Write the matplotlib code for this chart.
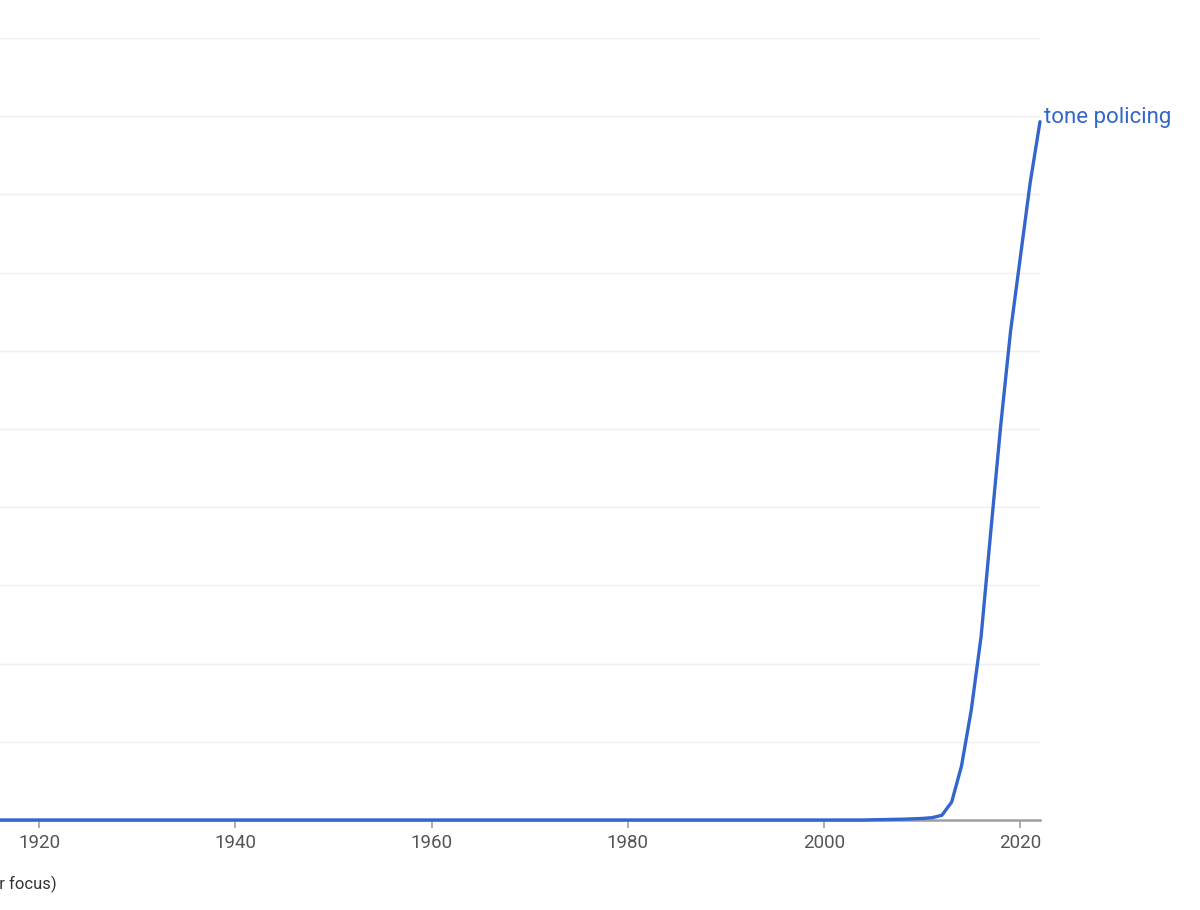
import matplotlib
matplotlib.use("Agg")
import matplotlib.pyplot as plt

# Ngram frequency of "tone policing" (y in gridline units)
years = list(range(1916, 2023))
flat_years = 2005 - 1916
freq = [0.0] * flat_years + [
    0.003, 0.005, 0.008, 0.01, 0.015, 0.02, 0.03,  # 2005-2011
    0.06, 0.23, 0.69, 1.41, 2.35, 3.71,            # 2012-2017
    5.05, 6.25, 7.20, 8.15, 8.93,                  # 2018-2022
]
xticks = [1920, 1940, 1960, 1980, 2000, 2020]
series_label = "tone policing"

blue = "#3366cc"
plt.rcParams["font.family"] = ["Roboto", "DejaVu Sans"]

fig = plt.figure(figsize=(12, 9.1), dpi=100)
ax = fig.add_axes([0, 90 / 910, 1040 / 1200, 782 / 910])

ax.plot(years, freq, color=blue, linewidth=2.4, solid_capstyle="round",
        solid_joinstyle="round", clip_on=False, zorder=3)
ax.set_xlim(1916.02, 2022)
ax.set_ylim(0, 10)

# light horizontal gridlines
ax.set_yticks(range(1, 11))
ax.yaxis.grid(True, color="#efefef", linewidth=1)
ax.tick_params(axis="y", length=0, labelleft=False)

ax.set_xticks(xticks)
ax.set_xticklabels([str(t) for t in xticks], fontsize=13.5, color="#555555")
ax.tick_params(axis="x", direction="out", length=6, width=1.2, color="#9e9e9e", pad=4)

for side in ["top", "right", "left"]:
    ax.spines[side].set_visible(False)
ax.spines["bottom"].set_color("#9e9e9e")
ax.spines["bottom"].set_linewidth(1.8)

# series label at the end of the line
ax.annotate(series_label, xy=(years[-1], freq[-1]), xytext=(3, 3), textcoords="offset points",
            color=blue, fontsize=16, ha="left", va="center", annotation_clip=False)

# hint text at the bottom, cropped by the left edge as in the reference
fig.text(57 / 1200, 1 - 884 / 910, "(click on line/label for focus)", ha="right", va="center",
         fontsize=12, color="#333333")

fig.savefig("out.png", dpi=100, facecolor="white")
